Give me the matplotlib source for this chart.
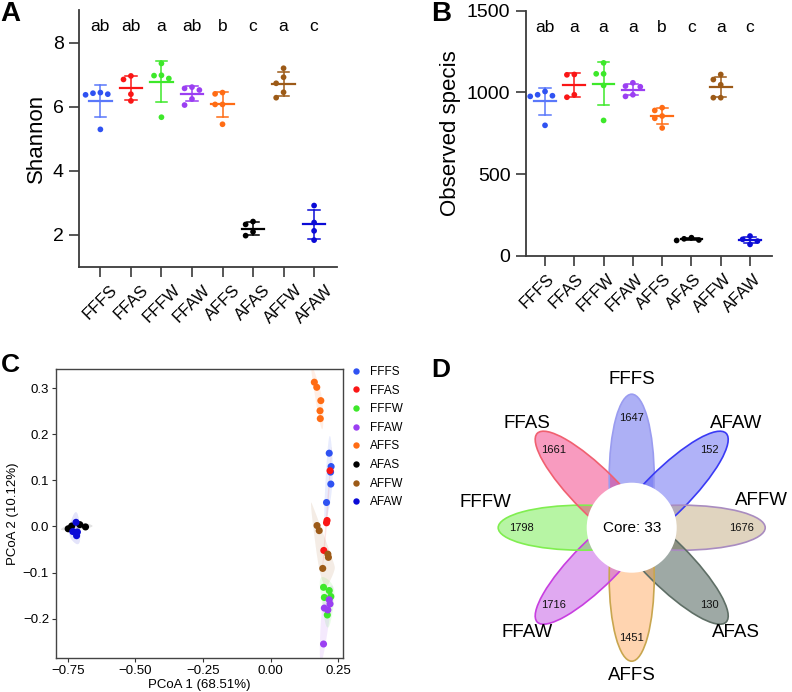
import numpy as np
import matplotlib
matplotlib.use('Agg')
import matplotlib.pyplot as plt
from matplotlib.patches import Ellipse, Circle, Polygon
from matplotlib.lines import Line2D
import matplotlib.transforms as mtransforms

plt.rcParams['font.family'] = ['Liberation Sans', 'DejaVu Sans']

# ---------------- data ----------------
groups = ['FFFS', 'FFAS', 'FFFW', 'FFAW', 'AFFS', 'AFAS', 'AFFW', 'AFAW']
group_colors = ['#2f52f2', '#fa1616', '#3de82a', '#9b3ff2', '#ff6c14', '#000000', '#9c5a17', '#0b0bd6']
bar_colors = ['#5a78fa', '#fa1616', '#3de82a', '#9b3ff2', '#ff6c14', '#000000', '#9c5a17', '#0b0bd6']

# Panel A: Shannon
shannon_points = [
    [6.43, 6.38, 6.40, 6.45, 5.30],
    [6.86, 6.97, 6.40, 6.19],
    [6.99, 6.98, 6.89, 7.36, 5.68],
    [6.62, 6.58, 6.53, 6.25, 6.06],
    [6.45, 6.41, 6.08, 6.08, 5.46],
    [2.33, 2.42, 1.98, 2.10],
    [7.21, 6.93, 6.74, 6.46, 6.29],
    [2.92, 2.39, 2.13, 1.84],
]
shannon_mean = [6.19, 6.60, 6.79, 6.42, 6.08, 2.20, 6.72, 2.33]
shannon_sd = [0.50, 0.37, 0.64, 0.245, 0.39, 0.21, 0.37, 0.45]
shannon_letters = ['ab', 'ab', 'a', 'ab', 'b', 'c', 'a', 'c']

# Panel B: Observed species
observed_points = [
    [986, 1006, 976, 980, 799],
    [1108, 1110, 971, 986],
    [1181, 1114, 1114, 1043, 829],
    [1059, 1039, 1035, 986, 976],
    [907, 890, 856, 842, 783],
    [112, 95, 105, 98],
    [1110, 1079, 1047, 968, 968],
    [71, 102, 122, 91],
]
observed_mean = [947, 1043, 1053, 1016, 856, 103, 1033, 96]
observed_sd = [82, 73, 132, 34, 50, 8, 61, 18]
observed_letters = ['ab', 'a', 'a', 'a', 'b', 'c', 'a', 'c']

# Panel C: PCoA
pcoa1 = [
    [0.216, 0.223, 0.222, 0.206, 0.221],
    [0.219, 0.208, 0.206, 0.196],
    [0.195, 0.216, 0.198, 0.222, 0.209],
    [0.216, 0.219, 0.198, 0.211, 0.195],
    [0.161, 0.170, 0.185, 0.182, 0.183],
    [-0.748, -0.735, -0.705, -0.684],
    [0.171, 0.179, 0.211, 0.213, 0.192],
    [-0.719, -0.731, -0.714, -0.717],
]
pcoa2 = [
    [0.159, 0.130, 0.092, 0.052, 0.118],
    [0.121, 0.013, 0.008, -0.052],
    [-0.132, -0.139, -0.154, -0.152, -0.192],
    [-0.159, -0.168, -0.177, -0.181, -0.255],
    [0.313, 0.302, 0.273, 0.251, 0.234],
    [-0.005, 0.001, 0.004, -0.001],
    [0.002, -0.009, -0.060, -0.067, -0.091],
    [0.009, -0.011, -0.012, -0.020],
]

# Panel D: flower Venn
venn_labels = ['FFFS', 'AFAW', 'AFFW', 'AFAS', 'AFFS', 'FFAW', 'FFFW', 'FFAS']
venn_counts = [1647, 152, 1676, 130, 1451, 1716, 1798, 1661]
venn_core = 33
venn_fill = ['#4b51eb', '#5155f1', '#bba171', '#294139', '#ffa151', '#bb41e1', '#61eb35', '#f12171']
venn_edge = ['#9a9cf0', '#3a3af5', '#a98cc0', '#5f6f66', '#c8a64f', '#c83ee0', '#80ee50', '#f06070']

# ---------------- figure ----------------
W, H = 792, 692
fig = plt.figure(figsize=(W / 100, H / 100), dpi=100)
AX_COL = '#3a3a3a'


def swarm_x(ax, xc, ys, step_px):
    ys = np.asarray(ys, dtype=float)
    pts = ax.transData.transform(np.column_stack([np.full(len(ys), xc), ys]))
    ypx = pts[:, 1]
    ppu = ax.transData.transform((1, 0))[0] - ax.transData.transform((0, 0))[0]
    order = np.argsort(-ys)
    placed = []
    offs = np.zeros(len(ys))
    for i in order:
        for k in [0, -1, 1, -2, 2, -3, 3]:
            ox = k * step_px
            ok = all((ox - px) ** 2 + (ypx[i] - py) ** 2 >= (step_px * 0.9) ** 2 for px, py in placed)
            if ok:
                break
        placed.append((ox, ypx[i]))
        offs[i] = ox
    return xc + offs / ppu


def dot_panel(rect, xlim, ylim, yticks, points, means, sds, letters, letter_y, ylabel, label_shift_px):
    ax = fig.add_axes(rect)
    ax.set_xlim(*xlim)
    ax.set_ylim(*ylim)
    for s in ['top', 'right']:
        ax.spines[s].set_visible(False)
    for s in ['left', 'bottom']:
        ax.spines[s].set_color(AX_COL)
        ax.spines[s].set_linewidth(1.3)
    ax.set_yticks(yticks)
    ax.set_xticks(range(len(groups)))
    ax.tick_params(axis='both', length=7.5, width=1.2, color=AX_COL, labelsize=14)
    ax.set_xticklabels(groups, rotation=45, ha='center', fontsize=12)
    off = mtransforms.ScaledTranslation(label_shift_px / 100, 0, fig.dpi_scale_trans)
    for lab in ax.get_xticklabels():
        lab.set_transform(lab.get_transform() + off)
    ax.set_ylabel(ylabel, fontsize=16)
    for i in range(len(groups)):
        c = group_colors[i]
        bc = bar_colors[i]
        m, sd = means[i], sds[i]
        ax.plot([i, i], [m - sd, m + sd], color=bc, lw=1.1, zorder=2)
        ax.plot([i - 0.19, i + 0.19], [m + sd, m + sd], color=bc, lw=1.1, zorder=2)
        ax.plot([i - 0.19, i + 0.19], [m - sd, m - sd], color=bc, lw=1.1, zorder=2)
        ax.plot([i - 0.37, i + 0.37], [m, m], color=bc, lw=1.6, zorder=2)
        xs = swarm_x(ax, i, points[i], 7.4)
        ax.scatter(xs, points[i], s=17, color=c, edgecolors='none', zorder=3)
        ax.text(i, letter_y, letters[i], ha='center', va='center', fontsize=12.5)
    return ax


axA = dot_panel([79 / W, 1 - 267 / H, 258 / W, 257 / H], (-0.7, 7.75), (1, 9.03), [2, 4, 6, 8],
                shannon_points, shannon_mean, shannon_sd, shannon_letters, 8.5, 'Shannon', 0)
axB = dot_panel([525.7 / W, 1 - 256 / H, 246 / W, 245.3 / H], (-0.66, 7.74), (0, 1500), [0, 500, 1000, 1500],
                observed_points, observed_mean, observed_sd, observed_letters, 1398, 'Observed specis', -8)

# ---------------- Panel C ----------------
axC = fig.add_axes([56 / W, 1 - 658.3 / H, 287.3 / W, 289 / H])
axC.set_xlim(-0.793, 0.268)
axC.set_ylim(-0.286, 0.341)
axC.set_xticks([-0.75, -0.5, -0.25, 0.0, 0.25])
axC.set_xticklabels(['\u22120.75', '\u22120.50', '\u22120.25', '0.00', '0.25'])
axC.set_yticks([-0.2, -0.1, 0.0, 0.1, 0.2, 0.3])
axC.set_yticklabels(['\u22120.2', '\u22120.1', '0.0', '0.1', '0.2', '0.3'])
axC.tick_params(axis='both', length=3, width=0.8, labelsize=9.5, color='#333333', pad=2)
for s in axC.spines.values():
    s.set_color('#444444')
    s.set_linewidth(1.0)
axC.set_xlabel('PCoA 1 (68.51%)', fontsize=9.5, labelpad=1)
axC.set_ylabel('PCoA 2 (10.12%)', fontsize=9.5, labelpad=3)


def convex_hull(pts):
    pts = sorted(set(map(tuple, pts)))
    if len(pts) <= 2:
        return pts

    def cross(o, a, b):
        return (a[0] - o[0]) * (b[1] - o[1]) - (a[1] - o[1]) * (b[0] - o[0])
    lower, upper = [], []
    for p in pts:
        while len(lower) >= 2 and cross(lower[-2], lower[-1], p) <= 0:
            lower.pop()
        lower.append(p)
    for p in reversed(pts):
        while len(upper) >= 2 and cross(upper[-2], upper[-1], p) <= 0:
            upper.pop()
        upper.append(p)
    return lower[:-1] + upper[:-1]


def chaikin(poly, n=3):
    P = np.asarray(poly, dtype=float)
    for _ in range(n):
        Q = []
        for i in range(len(P)):
            a, b = P[i], P[(i + 1) % len(P)]
            Q.append(0.75 * a + 0.25 * b)
            Q.append(0.25 * a + 0.75 * b)
        P = np.array(Q)
    return P


for i in range(len(groups)):
    pts = np.column_stack([pcoa1[i], pcoa2[i]])
    h = np.array(convex_hull(pts))
    cen = pts.mean(axis=0)
    f = 3.2 if groups[i] == 'AFAW' else 2.3
    hs = cen + (h - cen) * f
    if len(hs) >= 3:
        sm = chaikin(hs, 3)
        axC.add_patch(Polygon(sm, closed=True, facecolor=group_colors[i], alpha=0.11,
                              edgecolor='none', zorder=1))

for i in range(len(groups)):
    axC.scatter(pcoa1[i], pcoa2[i], s=26, color=group_colors[i], edgecolors='none', zorder=3)

handles = [Line2D([0], [0], marker='o', linestyle='none', markersize=4.6,
                  markerfacecolor=group_colors[i], markeredgecolor='none') for i in range(len(groups))]
fig.legend(handles, groups, loc='upper left', bbox_to_anchor=(350 / W, 1 - 366 / H),
           frameon=False, fontsize=8.5, handlelength=1.0, handletextpad=0.7,
           labelspacing=0.56, borderpad=0, borderaxespad=0)

# ---------------- Panel D ----------------
axD = fig.add_axes([420 / W, 0, 372 / W, 352 / H])
cx, cy = 631.7, 527.7
axD.set_xlim(420 - cx, 792 - cx)
axD.set_ylim(cy - 692, cy - 340)
axD.axis('off')
a_len, b_len, d_off = 83.5, 22.5, 50.0
for k in range(len(venn_labels)):
    ang = (90 - 45 * k) % 360
    t = np.deg2rad(ang)
    ex, ey = d_off * np.cos(t), d_off * np.sin(t)
    axD.add_patch(Ellipse((ex, ey), 2 * a_len, 2 * b_len, angle=ang,
                          facecolor=venn_fill[k], alpha=0.45, edgecolor='none', zorder=1))
    axD.add_patch(Ellipse((ex, ey), 2 * a_len, 2 * b_len, angle=ang,
                          facecolor='none', edgecolor=venn_edge[k], lw=1.2, zorder=2))
    axD.text(110 * np.cos(t), 110 * np.sin(t), str(venn_counts[k]), ha='center', va='center',
             fontsize=8, color='#111111', zorder=4)
    if ang == 0:
        lx, ly = 130, 27
    elif ang == 180:
        lx, ly = -146, 25
    else:
        lx, ly = 148 * np.cos(t), 148 * np.sin(t)
    axD.text(lx, ly, venn_labels[k], ha='center', va='center', fontsize=13.5, zorder=4)
axD.add_patch(Circle((0, 0), 45, facecolor='white', edgecolor='none', zorder=3))
axD.text(0, 0, 'Core: %d' % venn_core, ha='center', va='center', fontsize=11, zorder=4)

# panel letters
fig.text(0 / W, 1 - 1 / H, 'A', fontsize=20, fontweight='bold', ha='left', va='top')
fig.text(431 / W, 1 - 1 / H, 'B', fontsize=20, fontweight='bold', ha='left', va='top')
fig.text(1 / W, 1 - 353 / H, 'C', fontsize=19, fontweight='bold', ha='left', va='top')
fig.text(431 / W, 1 - 358 / H, 'D', fontsize=19, fontweight='bold', ha='left', va='top')

fig.savefig('out.png', dpi=100)
